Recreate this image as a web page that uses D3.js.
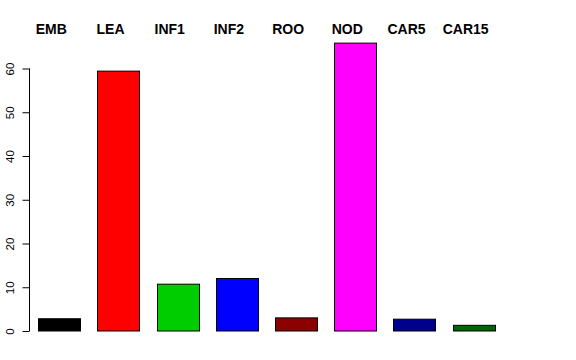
<!DOCTYPE html>
<html>
<head>
<meta charset="utf-8">
<script src="https://cdn.jsdelivr.net/npm/d3@7"></script>
<style>
html,body{margin:0;padding:0;background:#fff;}
svg{display:block;}
</style>
</head>
<body>
<script>
const categories = ["EMB","LEA","INF1","INF2","ROO","NOD","CAR5","CAR15"];
const values = [2.8, 59.4, 10.7, 12.0, 3.0, 65.8, 2.7, 1.3];
const colors = ["#000000","#FF0000","#00CD00","#0000FF","#8B0000","#FF00FF","#00008B","#006400"];
const yTicks = [0,10,20,30,40,50,60];

const W = 576, H = 360;
const svg = d3.select("body").append("svg").attr("width", W).attr("height", H);

const x = d3.scaleBand().domain(categories).range([38.3, 494.7]).paddingInner(0.29).paddingOuter(0);
const y = d3.scaleLinear().domain([0,60]).range([331, 68.5]);

svg.selectAll("rect.bar").data(categories).enter().append("rect")
  .attr("class","bar")
  .attr("x", d => Math.round(x(d)) + 0.5)
  .attr("width", Math.round(x.bandwidth()))
  .attr("y", (d,i) => y(values[i]))
  .attr("height", (d,i) => y(0) - y(values[i]))
  .attr("fill", (d,i) => colors[i])
  .attr("stroke", "#000")
  .attr("stroke-width", 1);

const axis = d3.axisLeft(y).tickValues(yTicks).tickSize(7).tickPadding(4).tickFormat(d3.format("d"));
const g = svg.append("g").attr("transform","translate(29.5,0)").call(axis);
g.select(".domain").attr("stroke","#000").attr("d", `M0,${y(60)}V${y(0)}`);
g.selectAll(".tick line").attr("stroke","#000");
g.selectAll(".tick text")
  .attr("font-family","Liberation Sans, Arial, sans-serif")
  .attr("font-size","11.5px")
  .attr("fill","#000")
  .attr("transform","rotate(-90)")
  .attr("x", 0).attr("y", -16)
  .attr("dy", "0")
  .attr("text-anchor","middle");

svg.selectAll("text.cat").data(categories).enter().append("text")
  .attr("class","cat")
  .attr("x", d => x(d) + x.bandwidth()/2 - 8)
  .attr("y", 34)
  .attr("text-anchor","middle")
  .attr("font-family","Liberation Sans, Arial, sans-serif")
  .attr("font-weight","bold")
  .attr("font-size","14px")
  .attr("fill","#000")
  .text(d => d);
</script>
</body>
</html>
